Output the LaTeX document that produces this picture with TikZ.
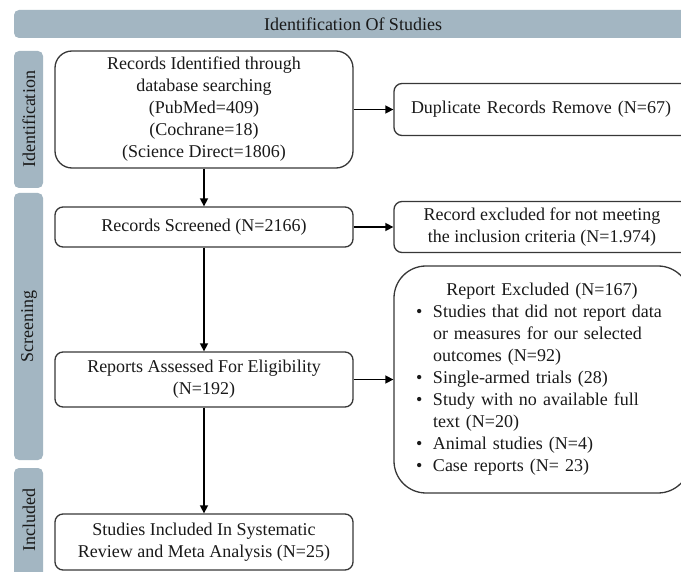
\documentclass[tikz,border=0pt]{standalone}
\usepackage{fontspec}
\setmainfont{Liberation Serif}
\usetikzlibrary{arrows.meta}
\definecolor{barfill}{RGB}{163,182,194}
\definecolor{boxline}{RGB}{55,55,55}
\definecolor{txt}{RGB}{25,25,25}
\newcommand{\rbul}{\makebox[17pt][l]{\textbullet}}
\newcommand{\rind}{\hspace*{17pt}}
\begin{document}
\begin{tikzpicture}[x=1pt,y=-1pt,
  every node/.style={font=\fontsize{18}{22}\selectfont, text=txt},
  fbox/.style={draw=boxline, line width=1.3pt, rounded corners=8pt, align=center, inner sep=0pt},
  arr/.style={draw=black, line width=1.5pt, -{Triangle[length=8pt,width=8pt]}},
  sidelabel/.style={rotate=90, inner sep=0pt}]
\useasboundingbox (0,0) rectangle (681,572);
% header and side bars
\fill[barfill, rounded corners=5pt] (14,10) rectangle (700,38);
\node (hdr) at (353,24) {Identification Of Studies};
\fill[barfill, rounded corners=5pt] (14,51) rectangle (43,188);
\fill[barfill, rounded corners=5pt] (14,193) rectangle (43,460);
\fill[barfill, rounded corners=5pt] (14,468) rectangle (43,600);
\node[sidelabel] (lid) at (29,119.5) {Identification};
\node[sidelabel] (lsc) at (29,326.5) {Screening};
\node[sidelabel] (lin) at (29,520) {Included};
% left column
\node[fbox, rounded corners=17pt, minimum width=298pt, minimum height=117pt] (rec) at (204,109.5)
  {Records Identified through\\database searching\\(PubMed=409)\\(Cochrane=18)\\(Science Direct=1806)};
\node[fbox, minimum width=298pt, minimum height=40pt] (scr) at (204,227) {Records Screened (N=2166)};
\node[fbox, minimum width=298pt, minimum height=55pt] (ass) at (204,379.5)
  {Reports Assessed For Eligibility\\(N=192)};
\node[fbox, minimum width=298pt, minimum height=56pt] (inc) at (204,542)
  {Studies Included In Systematic\\Review and Meta Analysis (N=25)};
% right column
\node[fbox, align=left, text width=262pt, inner xsep=17pt, minimum height=52pt] (dup) at (542,109.5)
  {Duplicate Records Remove (N=67)};
\node[fbox, minimum width=296pt, minimum height=51pt] (rex) at (542,227)
  {Record excluded for not meeting\\the inclusion criteria (N=1.974)};
\node[fbox, rounded corners=32pt, align=left, text width=252pt, inner xsep=22pt, minimum height=227pt] (pex) at (542,379.5)
  {\makebox[252pt][c]{Report Excluded (N=167)}\\
   \rbul Studies that did not report data\\
   \rind or measures for our selected\\
   \rind outcomes (N=92)\\
   \rbul Single-armed trials (28)\\
   \rbul Study with no available full\\
   \rind text (N=20)\\
   \rbul Animal studies (N=4)\\
   \rbul Case reports (N= 23)};
% connectors
\draw[arr] (rec) -- (dup);
\draw[arr] (scr) -- (rex);
\draw[arr] (ass) -- (pex);
\draw[arr] (rec) -- (scr);
\draw[arr] (scr) -- (ass);
\draw[arr] (ass) -- (inc);
\end{tikzpicture}
\end{document}
